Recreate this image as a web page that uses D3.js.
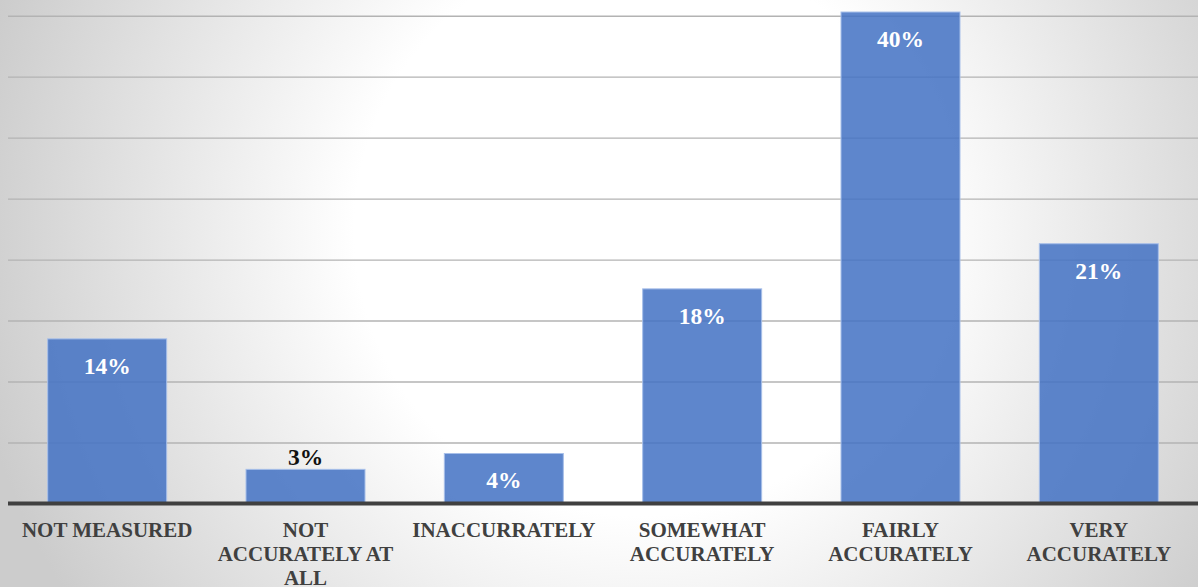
<!DOCTYPE html>
<html>
<head>
<meta charset="utf-8">
<script src="https://cdn.jsdelivr.net/npm/d3@7"></script>
<style>
  html, body { margin: 0; padding: 0; background: #fff; }
  svg { display: block; }
  .serif { font-family: "Liberation Serif", "Tinos", "Times New Roman", Times, serif; font-weight: bold; }
</style>
</head>
<body>
<svg id="chart" width="1198" height="587"></svg>
<script>
// ---- data ----
const categories = [
  "NOT MEASURED",
  "NOT ACCURATELY AT ALL",
  "INACCURRATELY",
  "SOMEWHAT ACCURATELY",
  "FAIRLY ACCURATELY",
  "VERY ACCURATELY"
];
const categoryLines = [
  ["NOT MEASURED"],
  ["NOT", "ACCURATELY AT", "ALL"],
  ["INACCURRATELY"],
  ["SOMEWHAT", "ACCURATELY"],
  ["FAIRLY", "ACCURATELY"],
  ["VERY", "ACCURATELY"]
];
const values = [13.5, 2.8, 4.1, 17.6, 40.3, 21.3];
const gridTicks = [5, 10, 15, 20, 25, 30, 35, 40];

// ---- layout ----
const W = 1198, H = 587;
const svg = d3.select("#chart");

const defs = svg.append("defs");
const grad = defs.append("radialGradient")
  .attr("id", "bg")
  .attr("gradientUnits", "userSpaceOnUse")
  .attr("cx", 640).attr("cy", 230).attr("r", 680);
grad.append("stop").attr("offset", "0%").attr("stop-color", "#ffffff");
grad.append("stop").attr("offset", "42%").attr("stop-color", "#ffffff");
grad.append("stop").attr("offset", "92%").attr("stop-color", "#d3d3d3");
grad.append("stop").attr("offset", "100%").attr("stop-color", "#cccccc");

svg.append("rect").attr("width", W).attr("height", H).attr("fill", "url(#bg)");

const x = d3.scaleBand()
  .domain(categories)
  .range([8, 1198])
  .paddingInner(0.4)
  .paddingOuter(0.2);

const y = d3.scaleLinear()
  .domain([0, 45])
  .range([503.5, -45.3]);

// gridlines
const grid = svg.append("g")
  .attr("class", "grid")
  .call(d3.axisLeft(y).tickValues(gridTicks).tickSize(-(1198 - 8)).tickFormat(""))
  .attr("transform", "translate(8,0)");
grid.select(".domain").remove();
grid.selectAll("line")
  .attr("stroke", "#b3b3b3")
  .attr("stroke-width", 1.4);

// bars
svg.append("g").selectAll("rect")
  .data(values)
  .join("rect")
  .attr("x", (d, i) => x(categories[i]))
  .attr("width", x.bandwidth())
  .attr("y", d => y(d))
  .attr("height", d => y(0) - y(d))
  .attr("fill", "#4472c4")
  .attr("fill-opacity", 0.86)
  .attr("stroke", "#a7bfe9")
  .attr("stroke-width", 1);

// x axis (baseline + labels)
const xAxis = svg.append("g")
  .attr("transform", `translate(0,${y(0)})`)
  .call(d3.axisBottom(x).tickSize(0).tickFormat(""));
xAxis.select(".domain")
  .attr("stroke", "#404040")
  .attr("stroke-width", 4)
  .attr("d", `M8,0H1198`);

const labelG = svg.append("g")
  .attr("class", "serif")
  .style("font-size", "21px")
  .attr("fill", "#404040")
  .attr("text-anchor", "middle");

categories.forEach((c, i) => {
  const t = labelG.append("text")
    .attr("x", x(c) + x.bandwidth() / 2)
    .attr("y", 537);
  categoryLines[i].forEach((line, j) => {
    t.append("tspan")
      .attr("x", x(c) + x.bandwidth() / 2)
      .attr("dy", j === 0 ? 0 : 24)
      .text(line);
  });
});

// data labels
svg.append("g")
  .attr("class", "serif")
  .style("font-size", "23.5px")
  .attr("text-anchor", "middle")
  .selectAll("text")
  .data(values)
  .join("text")
  .attr("x", (d, i) => x(categories[i]) + x.bandwidth() / 2)
  .attr("y", d => {
    const h = y(0) - y(d);
    return h < 40 ? y(d) - 4 : y(d) + 35;
  })
  .attr("fill", d => (y(0) - y(d)) < 40 ? "#111111" : "#ffffff")
  .text(d => Math.round(d) + "%");
</script>
</body>
</html>
